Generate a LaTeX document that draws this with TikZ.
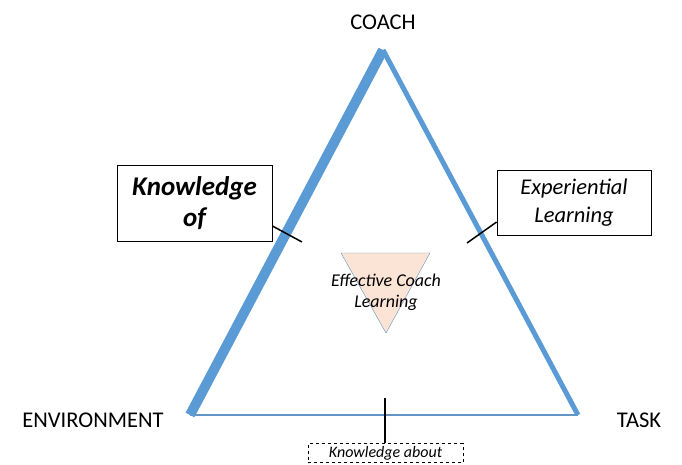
\documentclass[tikz,border=0pt]{standalone}
\usepackage{fontspec}
\setmainfont{Carlito}
\definecolor{edgeblue}{RGB}{91,155,213}
\definecolor{peach}{RGB}{251,228,214}
\begin{document}
\begin{tikzpicture}[x=1pt,y=-1pt]
\tikzstyle{corner}=[font=\fontsize{22.5}{24}\selectfont]
\tikzstyle{box}=[draw, thick, fill=white, align=center, inner sep=0pt]
\useasboundingbox (0,0) rectangle (682,464);

\coordinate (C) at (383,50);
\coordinate (E) at (190,415);
\coordinate (T) at (578,415);
\draw [edgeblue!80!gray, line width=1.4pt] (E) -- (T);
\draw [edgeblue, line width=5pt] (C) -- (T);
\draw [edgeblue, line width=10pt, line cap=butt] (E) -- (C);

\node [corner] (coach) at (383,22) {COACH};
\node [corner] (env) at (93,420) {ENVIRONMENT};
\node [corner] (task) at (639,420) {TASK};

\draw [edgeblue!70!gray, fill=peach] (341,253) -- (430,253) -- (386,333) -- cycle;
\node [align=center, font=\fontsize{18}{21}\selectfont\itshape] (ecl) at (386,292) {Effective Coach\\Learning};

\node [box, minimum width=155pt, minimum height=76pt, font=\fontsize{27}{31}\selectfont\bfseries\itshape] (ko) at (194.5,203) {Knowledge\\of};
\node [box, minimum width=154pt, minimum height=65pt, font=\fontsize{22.5}{28}\selectfont\itshape] (el) at (574,202.5) {Experiential\\Learning};
\node [box, dashed, thin, minimum width=155pt, minimum height=19pt, font=\fontsize{16}{18}\selectfont\itshape] (ka) at (385.5,453) {Knowledge about};

\coordinate (k1) at (302,242);
\coordinate (k2) at (467,243);
\coordinate (k3) at (385,398);
\draw [line width=1.5pt] (ko.east |- 0,226) -- (k1);
\draw [line width=1.5pt] (el.west |- 0,222) -- (k2);
\draw [line width=1.8pt] (k3) -- (ka.north -| k3);
\end{tikzpicture}
\end{document}
